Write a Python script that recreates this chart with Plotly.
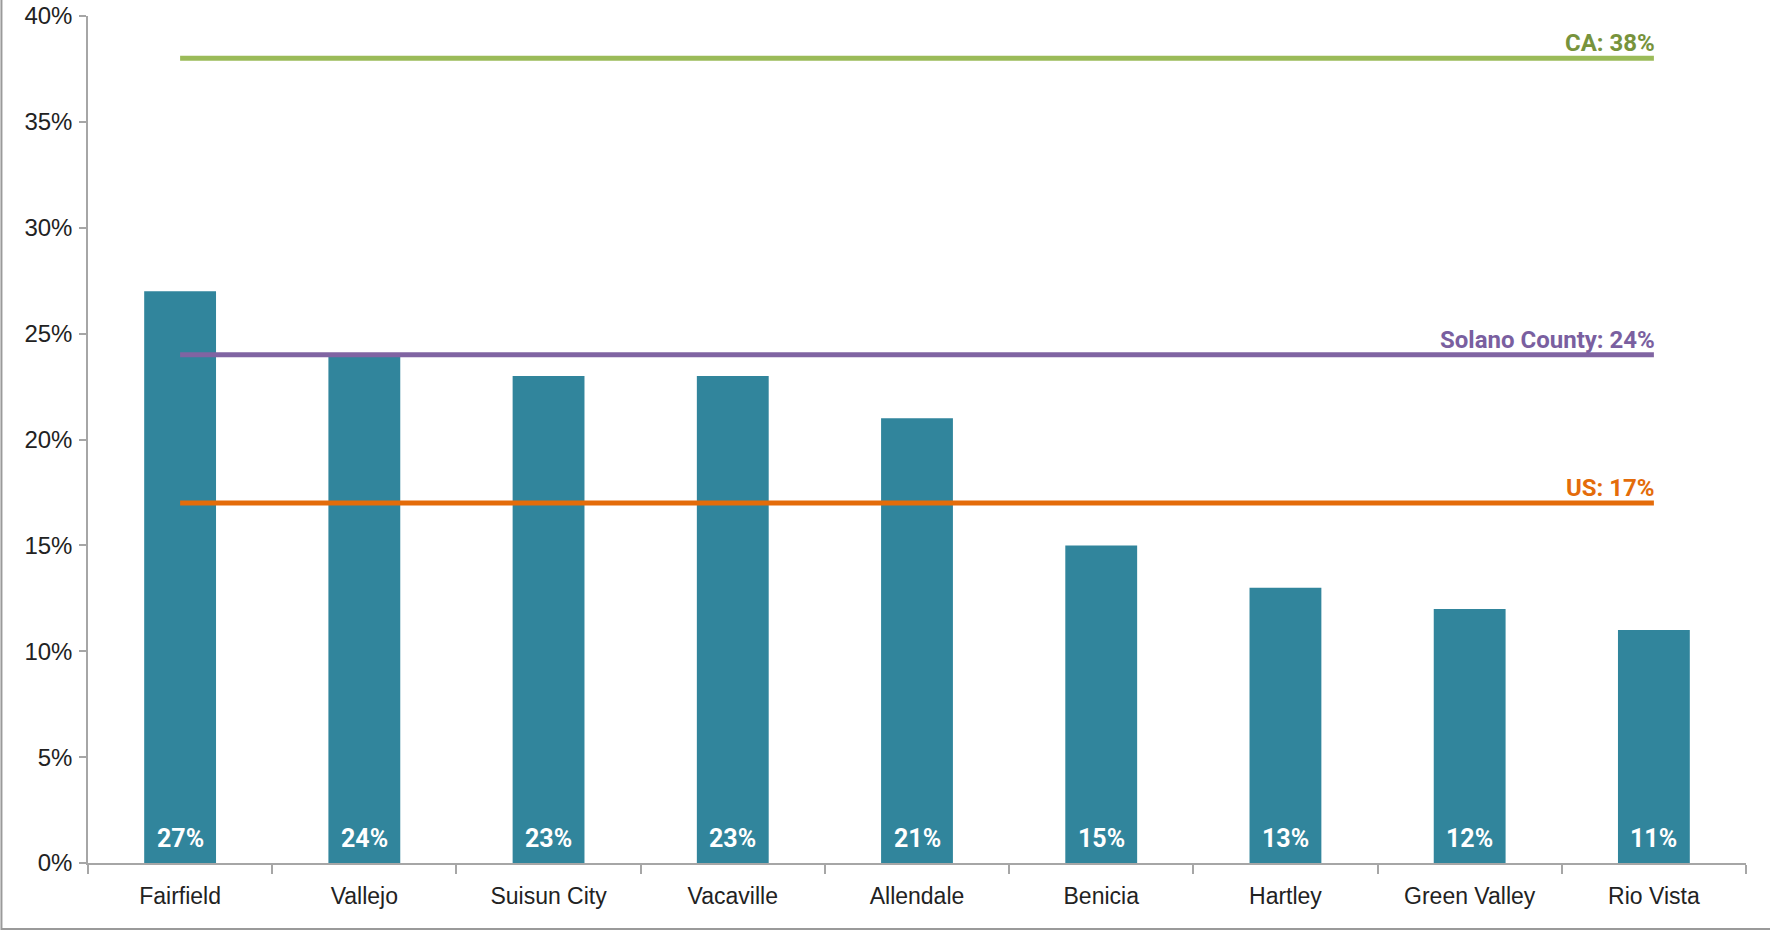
import plotly.graph_objects as go

# Share by city, with reference levels
cities = ["Fairfield", "Vallejo", "Suisun City", "Vacaville", "Allendale",
          "Benicia", "Hartley", "Green Valley", "Rio Vista"]
city_pct = [27, 24, 23, 23, 21, 15, 13, 12, 11]

ref_names = ["CA", "Solano County", "US"]
ref_pct = [38, 24, 17]
ref_line_colors = ["#9BBB59", "#8064A2", "#E46C0A"]
ref_text_colors = ["#77933C", "#7A5FA0", "#E46C0A"]

BAR_COLOR = "#31859C"
AXIS_COLOR = "#A6A6A6"
BOLD_FONT = "Roboto, Liberation Sans, Arial, sans-serif"
TICK_FONT = "Liberation Sans, Arial, sans-serif"

fig = go.Figure()

fig.add_trace(go.Bar(
    x=cities,
    y=[v / 100 for v in city_pct],
    marker=dict(color=BAR_COLOR, line=dict(width=0)),
    showlegend=False,
    hoverinfo="x+y"
))

# Reference lines span first to last category centre
for name, val, lc in zip(ref_names, ref_pct, ref_line_colors):
    fig.add_trace(go.Scatter(
        x=[cities[0], cities[-1]],
        y=[val / 100, val / 100],
        mode="lines",
        line=dict(color=lc, width=5),
        name=name,
        showlegend=False
    ))

annotations = []
for c, v in zip(cities, city_pct):
    annotations.append(dict(
        x=c, y=0, xref="x", yref="y",
        text=f"{v}%", showarrow=False,
        yanchor="bottom", yshift=8,
        font=dict(family=BOLD_FONT, size=25, color="white", weight="bold")
    ))
for name, val, tc in zip(ref_names, ref_pct, ref_text_colors):
    annotations.append(dict(
        x=cities[-1], y=val / 100, xref="x", yref="y",
        text=f"{name}: {val}%", showarrow=False,
        xanchor="right", yanchor="bottom", yshift=-1, xshift=3,
        font=dict(family=BOLD_FONT, size=24, color=tc, weight="bold")
    ))

fig.update_layout(
    width=1770, height=931,
    margin=dict(l=88, r=24, t=16, b=68, autoexpand=False),
    paper_bgcolor="white",
    plot_bgcolor="white",
    bargap=0.61,
    annotations=annotations,
    shapes=[
        # outer frame (left and bottom edges of the image)
        dict(type="line", xref="paper", yref="paper",
             x0=-0.0522, x1=-0.0522, y0=-0.079, y1=1.02,
             line=dict(color="#9A9A9A", width=2)),
        dict(type="line", xref="paper", yref="paper",
             x0=-0.0522, x1=1.02, y0=-0.078, y1=-0.078,
             line=dict(color="#9A9A9A", width=2)),
    ],
    xaxis=dict(
        type="category",
        automargin=False,
        showline=True, linecolor=AXIS_COLOR, linewidth=1.5,
        ticks="outside", tickson="boundaries", ticklen=9,
        tickcolor=AXIS_COLOR, tickwidth=1.5,
        ticklabelstandoff=12,
        showgrid=False,
        tickfont=dict(family=TICK_FONT, size=23, color="#222222"),
    ),
    yaxis=dict(
        range=[0, 0.40],
        automargin=False,
        dtick=0.05,
        tickformat=".0%",
        showline=True, linecolor=AXIS_COLOR, linewidth=1.5,
        ticks="outside", ticklen=7, tickcolor=AXIS_COLOR, tickwidth=1.5,
        ticklabelstandoff=2,
        showgrid=False, zeroline=False,
        tickfont=dict(family=TICK_FONT, size=24, color="#222222"),
    ),
)

fig.write_html("out.html", config={"displayModeBar": False},
               post_script="document.body.style.margin='0';")
